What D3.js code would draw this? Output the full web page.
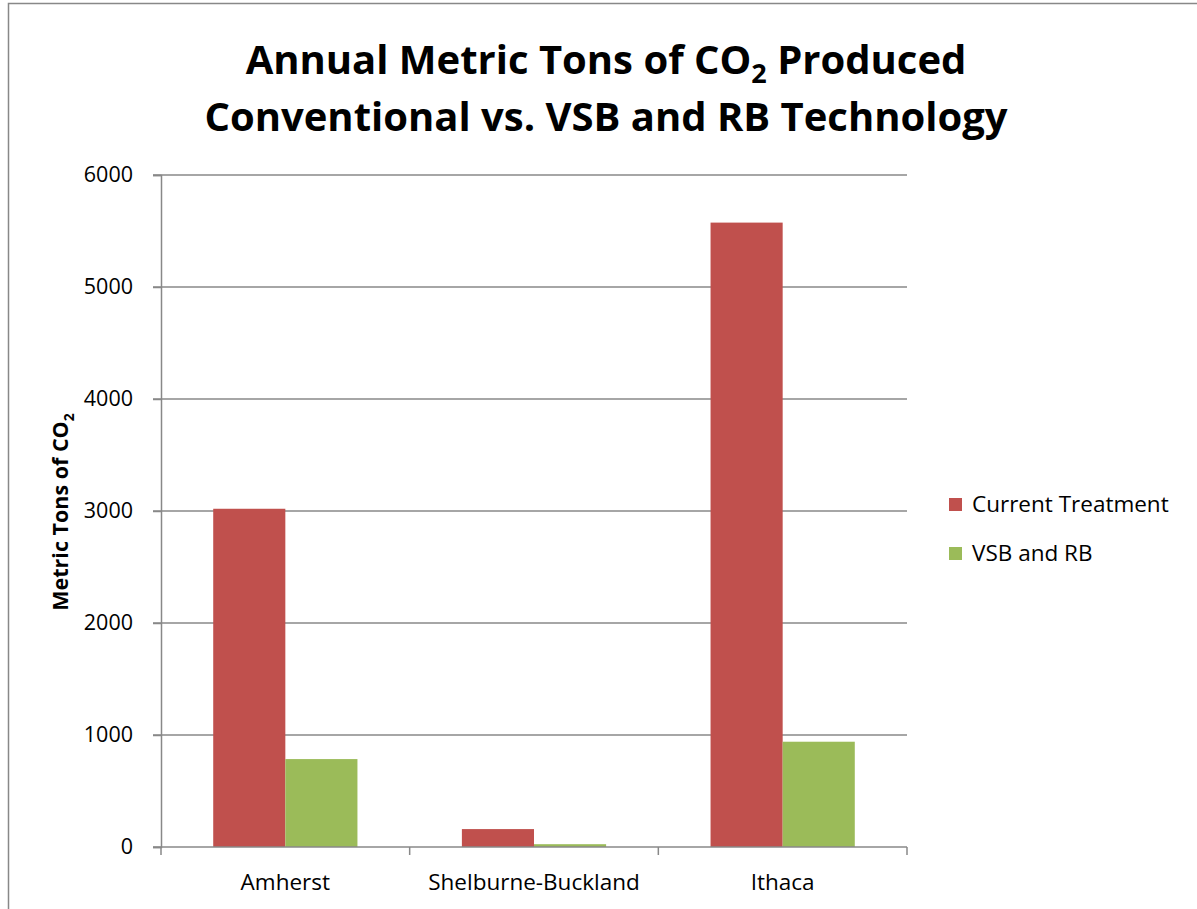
<!DOCTYPE html>
<html><head><meta charset="utf-8">
<script src="https://cdn.jsdelivr.net/npm/d3@7"></script>
<style>body{margin:0;background:#fff}svg{display:block}text{font-family:"Open Sans",sans-serif}</style>
</head><body><div id="chart"></div>
<script>
const categories = ["Amherst", "Shelburne-Buckland", "Ithaca"];
const seriesNames = ["Current Treatment", "VSB and RB"];
const currentTreatment = [3020, 160, 5575];
const vsbAndRb = [785, 25, 940];
const yTicks = [0, 1000, 2000, 3000, 4000, 5000, 6000];
const colors = ["#c0504d", "#9bbb59"];

const W = 1197, H = 909;
const svg = d3.select("#chart").append("svg").attr("width", W).attr("height", H);
svg.append("rect").attr("x", 0).attr("y", 0).attr("width", W).attr("height", H).attr("fill", "#fff");
// outer border
svg.append("path").attr("d", "M8.5,909 V3.5 H1197").attr("fill", "none").attr("stroke", "#888").attr("stroke-width", 1.5);

const pLeft = 161, pRight = 907, pTop = 175, pBottom = 847;
const x0 = d3.scaleBand().domain(categories).range([pLeft, pRight]).paddingInner(0.42).paddingOuter(0.21);
const x1 = d3.scaleBand().domain(seriesNames).range([0, x0.bandwidth()]);
const y = d3.scaleLinear().domain([0, 6000]).range([pBottom, pTop]);

// gridlines
svg.append("g").selectAll("line").data(yTicks.filter(d => d > 0)).join("line")
  .attr("x1", pLeft - 8).attr("x2", pRight).attr("y1", d => y(d)).attr("y2", d => y(d))
  .attr("stroke", "#888").attr("stroke-width", 1.5);

const data = categories.map((c, i) => ({cat: c, vals: [currentTreatment[i], vsbAndRb[i]]}));
svg.append("g").selectAll("g").data(data).join("g")
  .attr("transform", d => `translate(${x0(d.cat)},0)`)
  .selectAll("rect").data(d => d.vals.map((v, j) => ({s: seriesNames[j], v, j}))).join("rect")
  .attr("x", d => x1(d.s)).attr("width", x1.bandwidth())
  .attr("y", d => y(d.v)).attr("height", d => y(0) - y(d.v))
  .attr("fill", d => colors[d.j]);

// y axis
const yAxis = svg.append("g").attr("transform", `translate(${pLeft},0)`)
  .call(d3.axisLeft(y).tickValues(yTicks).tickSize(8).tickPadding(20).tickFormat(d3.format("d")));
yAxis.select(".domain").attr("stroke", "#888").attr("stroke-width", 1.5);
yAxis.selectAll(".tick line").attr("stroke", "#888").attr("stroke-width", 1.5);
yAxis.selectAll("text").attr("font-size", 21.5).attr("fill", "#000").attr("font-family", "'Open Sans',sans-serif");

// x axis
const boundaries = [pLeft, ...categories.map(c => x0(c) + x0.bandwidth() / 2 + x0.step() / 2)];
const xg = svg.append("g");
xg.append("line").attr("x1", pLeft - 8).attr("x2", pRight).attr("y1", pBottom).attr("y2", pBottom).attr("stroke", "#888").attr("stroke-width", 1.5);
xg.selectAll("line.t").data(boundaries).join("line").attr("class", "t")
  .attr("x1", d => d).attr("x2", d => d).attr("y1", pBottom).attr("y2", pBottom + 8)
  .attr("stroke", "#888").attr("stroke-width", 1.5);
xg.selectAll("text").data(categories).join("text")
  .attr("x", d => x0(d) + x0.bandwidth() / 2).attr("y", 890)
  .attr("text-anchor", "middle").attr("font-size", 22.5).text(d => d);

// y label
const yl = svg.append("text").attr("transform", "translate(68,512) rotate(-90)")
  .attr("text-anchor", "middle").attr("font-size", 21.5).attr("font-weight", "bold");
yl.append("tspan").text("Metric Tons of CO");
yl.append("tspan").attr("font-size", 14).attr("dy", 6).text("2");

// title
const t1 = svg.append("text").attr("x", 606).attr("y", 74).attr("text-anchor", "middle")
  .attr("font-size", 40).attr("font-weight", "bold");
t1.append("tspan").text("Annual Metric Tons of CO");
t1.append("tspan").attr("font-size", 27).attr("dy", 9).text("2");
t1.append("tspan").attr("dy", -9).text(" Produced");
svg.append("text").attr("x", 606).attr("y", 131).attr("text-anchor", "middle")
  .attr("font-size", 40).attr("font-weight", "bold").text("Conventional vs. VSB and RB Technology");

// legend
const lg = svg.append("g").selectAll("g").data(seriesNames).join("g")
  .attr("transform", (d, i) => `translate(949,${498 + i * 49})`);
lg.append("rect").attr("width", 13).attr("height", 13).attr("fill", (d, i) => colors[i]);
lg.append("text").attr("x", 23).attr("y", 14).attr("font-size", 22.5).text(d => d);
</script></body></html>
